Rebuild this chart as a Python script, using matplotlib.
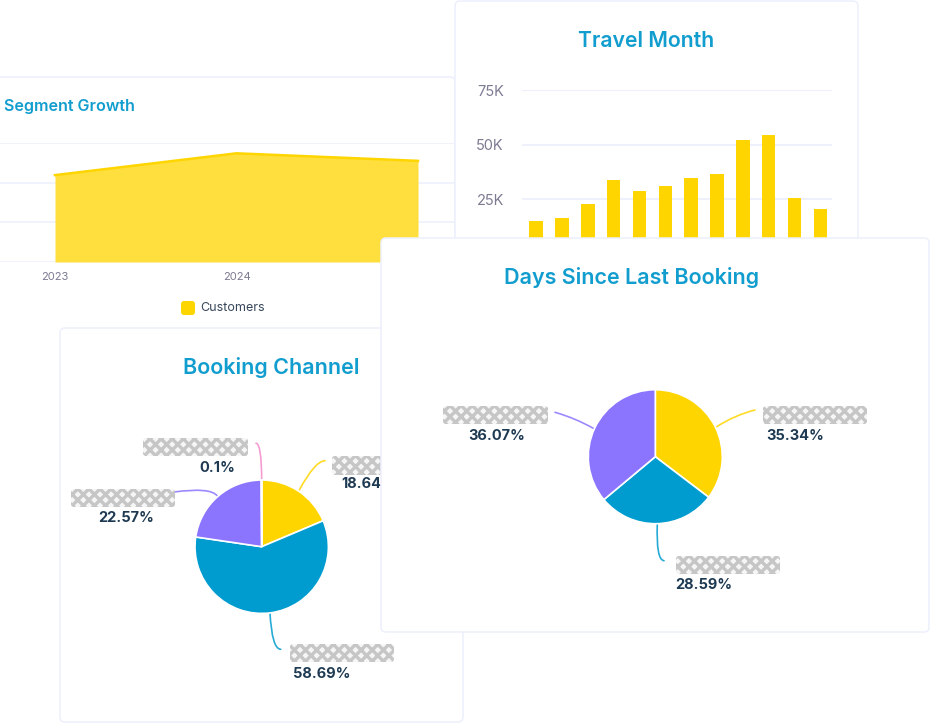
import matplotlib
matplotlib.use("Agg")
import matplotlib.pyplot as plt
from matplotlib.patches import FancyBboxPatch, PathPatch
from matplotlib.path import Path

plt.rcParams["font.family"] = ["Inter", "DejaVu Sans"]
plt.rcParams["hatch.linewidth"] = 2.4

W, H = 931, 723

# dados
anos = [2023, 2024, 2025]
clientes = [21900, 27400, 25500]
ticks_clientes = [0, 10000, 20000, 30000]

meses = ["Jan", "Feb", "Mar", "Apr", "May", "Jun", "Jul", "Aug", "Sep", "Oct", "Nov", "Dec"]
viagens = [15200, 16500, 22900, 33900, 28900, 31200, 34800, 36700, 52200, 54500, 25700, 20700]
ticks_viagens = [0, 25000, 50000, 75000]
labels_viagens = ["0", "25K", "50K", "75K"]

canal_pct = [18.64, 58.69, 22.57, 0.1]
dias_pct = [35.34, 28.59, 36.07]

AMARELO = "#FFD500"
AREA = "#FFDF3E"
AZUL = "#009CD0"
ROXO = "#8B75FF"
ROSA = "#F48CC8"
cores_canal = [AMARELO, AZUL, ROXO, ROSA]
cores_dias = [AMARELO, AZUL, ROXO]

TITULO = "#129DCF"
BORDA = "#EDF0FC"
GRADE = "#EEF1FB"
CINZA = "#7B7B92"
ESCURO = "#1E3A52"

fig = plt.figure(figsize=(W / 100, H / 100), dpi=100, facecolor="white")


def camada(z):
    # eixo do tamanho da figura, em pixels
    ax = fig.add_axes([0, 0, 1, 1], zorder=z)
    ax.set_xlim(0, W)
    ax.set_ylim(H, 0)
    ax.axis("off")
    ax.patch.set_alpha(0)
    return ax


def eixo_px(x0, y0, x1, y1, z):
    return fig.add_axes([x0 / W, 1 - y1 / H, (x1 - x0) / W, (y1 - y0) / H], zorder=z)


def cartao(ax, x0, y0, x1, y1):
    ax.add_patch(FancyBboxPatch((x0 + 5, y0 + 5), x1 - x0 - 10, y1 - y0 - 10,
                                boxstyle="round,pad=5,rounding_size=5",
                                fc="white", ec=BORDA, lw=1.1))


def curva(ax, p0, ctrl, p1, cor):
    caminho = Path([p0, ctrl, p1], [Path.MOVETO, Path.CURVE3, Path.CURVE3])
    ax.add_patch(PathPatch(caminho, fc="none", ec=cor, lw=1.2, alpha=0.85, capstyle="round"))


def rotulo(ax, x0, y0, x1, y1, texto, tx, ty):
    # nome da categoria está borrado no original
    ax.add_patch(FancyBboxPatch((x0 + 2, y0 + 2), x1 - x0 - 4, y1 - y0 - 4,
                                boxstyle="round,pad=2,rounding_size=3",
                                fc="#F6F6F6", ec="#C6C6C6", lw=0, hatch="xxx"))
    ax.text(tx, ty, texto, ha="center", va="center", fontsize=10.5, fontweight="bold", color=ESCURO)


def pizza(cx, cy, r, valores, cores, z):
    ax = eixo_px(cx - r, cy - r, cx + r, cy + r, z)
    ax.pie(valores, colors=cores, startangle=90, counterclock=False, radius=1,
           wedgeprops={"edgecolor": "white", "linewidth": 1.2})
    ax.set_xlim(-1, 1)
    ax.set_ylim(-1, 1)


# Segment Growth
c1 = camada(1)
cartao(c1, -30, 77, 455, 800)
c1.text(4, 107, "Segment Growth", color=TITULO, fontsize=11.6, fontweight="semibold", va="center")

ax_seg = eixo_px(0, 143, 454, 262, 2)
ax_seg.patch.set_alpha(0)
ax_seg.fill_between(anos, clientes, color=AREA, lw=0, zorder=3)
ax_seg.plot(anos, clientes, color=AMARELO, lw=1.8, zorder=4)
ax_seg.set_xlim(2023 - 55 / 181.5, 2023 + 399 / 181.5)
ax_seg.set_ylim(0, 30000)
ax_seg.set_xticks(anos)
ax_seg.set_yticks(ticks_clientes)
ax_seg.set_yticklabels([])
ax_seg.tick_params(length=0, labelsize=8, labelcolor=CINZA, pad=7)
ax_seg.grid(axis="y", color=GRADE, lw=1.2)
ax_seg.set_axisbelow(True)
for s in ax_seg.spines.values():
    s.set_visible(False)

c1b = camada(3)
c1b.add_patch(FancyBboxPatch((183, 303), 10, 10, boxstyle="round,pad=2,rounding_size=3",
                             fc=AMARELO, ec="none"))
c1b.text(200, 308, "Customers", fontsize=9, color="#36465A", va="center")

# Travel Month
c2 = camada(4)
cartao(c2, 455, 1, 858, 320)
c2.text(646, 41, "Travel Month", color=TITULO, fontsize=15.3, fontweight="semibold", ha="center", va="center")

ax_mes = eixo_px(522, 90, 832, 254, 5)
ax_mes.patch.set_alpha(0)
ax_mes.bar(meses, viagens, width=0.52, color=AMARELO)
ax_mes.set_xlim(-0.55, 11.45)
ax_mes.set_ylim(0, 75000)
# rótulos dos meses ficam escondidos atrás do outro cartão
ax_mes.tick_params(axis="x", length=0, labelbottom=False)
ax_mes.set_yticks(ticks_viagens)
ax_mes.set_yticklabels(labels_viagens)
ax_mes.tick_params(axis="y", length=0, labelsize=10.5, labelcolor=CINZA, pad=13)
ax_mes.grid(axis="y", color=GRADE, lw=1.5)
ax_mes.set_axisbelow(True)
for s in ax_mes.spines.values():
    s.set_visible(False)

# Booking Channel
c3 = camada(6)
cartao(c3, 60, 328, 463, 722)
c3.text(271, 368, "Booking Channel", color=TITULO, fontsize=15.5, fontweight="semibold", ha="center", va="center")
curva(c3, (299.3, 490), (315, 461), (325, 460.7), AMARELO)
curva(c3, (270, 613.3), (272, 649), (280.7, 649.3), AZUL)
curva(c3, (217.3, 496), (211, 487), (174, 492), ROXO)
curva(c3, (261.7, 480), (261.5, 443), (256, 443.3), ROSA)
rotulo(c3, 143, 438, 248, 456, f"{canal_pct[3]}%", 217, 468)
rotulo(c3, 71, 489, 175, 507, f"{canal_pct[2]}%", 126, 518)
rotulo(c3, 332, 456, 436, 475, f"{canal_pct[0]}%", 368.5, 484)
rotulo(c3, 290, 644, 394, 662, f"{canal_pct[1]}%", 322, 674)
pizza(261.7, 546.7, 66.7, canal_pct, cores_canal, 7)

# Days Since Last Booking
c4 = camada(8)
cartao(c4, 381, 238, 929, 632)
c4.text(632, 278, "Days Since Last Booking", color=TITULO, fontsize=15.5, fontweight="semibold", ha="center", va="center")
curva(c4, (716.7, 426.7), (735, 415), (755, 410), AMARELO)
curva(c4, (657.3, 524), (656, 560), (664, 560.7), AZUL)
curva(c4, (593.3, 428.3), (575, 418), (555, 412.3), ROXO)
rotulo(c4, 443, 406, 548, 424, f"{dias_pct[2]}%", 497, 436)
rotulo(c4, 763, 406, 867, 424, f"{dias_pct[0]}%", 795, 436)
rotulo(c4, 676, 556, 780, 574, f"{dias_pct[1]}%", 704, 585)
pizza(655.3, 456.7, 67, dias_pct, cores_dias, 9)

fig.savefig("out.png", dpi=100, facecolor="white")
